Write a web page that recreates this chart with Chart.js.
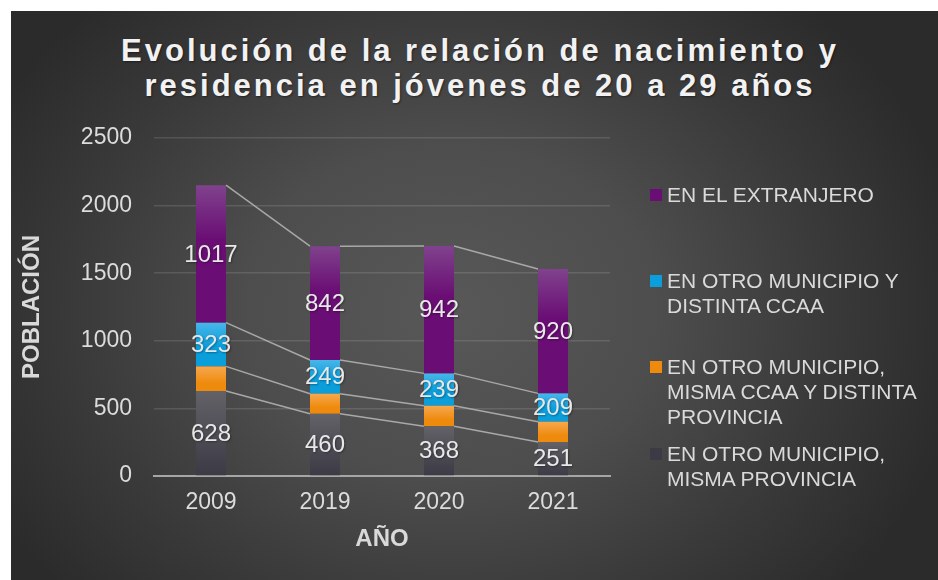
<!DOCTYPE html>
<html>
<head>
<meta charset="utf-8">
<script src="https://cdn.jsdelivr.net/npm/chart.js@4.4.1/dist/chart.umd.min.js"></script>
<style>
  html, body { margin: 0; padding: 0; background: #fff; }
  #wrap { position: relative; width: 938px; height: 580px; overflow: hidden; }
  #panel {
    position: absolute; left: 11px; top: 11px; width: 927px; height: 569px;
    background: radial-gradient(ellipse 520px 420px at 440px 300px, #585858 0%, #4d4d4d 40%, #3a3a3a 72%, #2b2b2b 100%);
  }
  #title {
    position: absolute; left: 120px; top: 33px; width: 720px;
    text-align: center; color: #f2f2f2;
    font: bold 31px "Liberation Sans", Arial, sans-serif;
    line-height: 35px; letter-spacing: 3px;
    text-shadow: 1px 1px 2px rgba(0,0,0,0.45);
  }
  canvas { position: absolute; left: 0; top: 0; }
  .leg {
    position: absolute; left: 667px; color: #dadada;
    font: 21px "Liberation Sans", Arial, sans-serif; line-height: 25px;
    white-space: nowrap;
  }
  .leg i {
    position: absolute; left: -17px; top: 7px; width: 12px; height: 12px;
  }
</style>
</head>
<body>
<div id="wrap">
  <div id="panel"></div>
  <div id="title">Evolución de la relación de nacimiento y<br>residencia en jóvenes de 20 a 29 años</div>
  <canvas id="chart" width="938" height="580"></canvas>
  <div id="legend"></div>
</div>
<script>
const years = ["2009", "2019", "2020", "2021"];
const mismaProvincia = [628, 460, 368, 251];
const mismaCcaa = [183, 149, 152, 151];
const distintaCcaa = [323, 249, 239, 209];
const extranjero = [1017, 842, 942, 920];

const seriesNames = [
  ["EN OTRO MUNICIPIO,", "MISMA PROVINCIA"],
  ["EN OTRO MUNICIPIO,", "MISMA CCAA Y DISTINTA", "PROVINCIA"],
  ["EN OTRO MUNICIPIO Y", "DISTINTA CCAA"],
  ["EN EL EXTRANJERO"]
];
const seriesValues = [mismaProvincia, mismaCcaa, distintaCcaa, extranjero];
// [top colour, base colour, where the base colour starts]
const seriesColors = [
  ["#636268", "#3b3a45", 1.0],
  ["#f6a84e", "#ee8a0c", 0.7],
  ["#48b6ea", "#0a9edb", 0.55],
  ["#80428d", "#6a0d74", 0.4]
];
const showLabel = [true, false, true, true];
const legendTops = [441, 354, 268, 182];

const FONT = '"Liberation Sans", Arial, sans-serif';
Chart.defaults.font.family = FONT;
Chart.defaults.color = "#d9d9d9";

function stackBase(ds, i) {
  let s = 0;
  for (let k = 0; k < ds; k++) s += seriesValues[k][i];
  return s;
}

function barFill(dsIndex) {
  return function (ctx) {
    const chart = ctx.chart;
    const y = chart.scales.y;
    const c = seriesColors[dsIndex];
    if (!y || ctx.dataIndex == null) return c[1];
    const start = stackBase(dsIndex, ctx.dataIndex);
    const top = y.getPixelForValue(start + seriesValues[dsIndex][ctx.dataIndex]);
    const bottom = y.getPixelForValue(start);
    if (!isFinite(top) || !isFinite(bottom)) return c[1];
    const g = chart.ctx.createLinearGradient(0, top, 0, bottom);
    g.addColorStop(0, c[0]);
    g.addColorStop(c[2], c[1]);
    g.addColorStop(1, c[1]);
    return g;
  };
}

// Excel-like series lines between the bar tops
const seriesLines = {
  id: "seriesLines",
  beforeDatasetsDraw(chart) {
    const ctx = chart.ctx;
    ctx.save();
    ctx.strokeStyle = "#a8a8a8";
    ctx.lineWidth = 1.5;
    for (let d = 0; d < chart.data.datasets.length; d++) {
      const bars = chart.getDatasetMeta(d).data;
      for (let i = 0; i < bars.length - 1; i++) {
        const a = bars[i], b = bars[i + 1];
        ctx.beginPath();
        ctx.moveTo(a.x + a.width / 2, a.y);
        ctx.lineTo(b.x - b.width / 2, b.y);
        ctx.stroke();
      }
    }
    ctx.restore();
  }
};

const valueLabels = {
  id: "valueLabels",
  afterDatasetsDraw(chart) {
    const ctx = chart.ctx;
    ctx.save();
    ctx.font = "24px " + FONT;
    ctx.textAlign = "center";
    ctx.textBaseline = "middle";
    ctx.fillStyle = "#e8e8e8";
    ctx.shadowColor = "rgba(0,0,0,0.35)";
    ctx.shadowOffsetX = 1;
    ctx.shadowOffsetY = 1;
    ctx.shadowBlur = 2;
    chart.data.datasets.forEach((ds, d) => {
      if (!showLabel[d]) return;
      chart.getDatasetMeta(d).data.forEach((bar, i) => {
        ctx.fillText(String(ds.data[i]), bar.x, (bar.y + bar.base) / 2 + 1);
      });
    });
    ctx.restore();
  }
};

const datasets = seriesValues.map((vals, d) => ({
  label: seriesNames[d].join(" "),
  data: vals,
  backgroundColor: barFill(d),
  borderWidth: 0,
  categoryPercentage: 1,
  barPercentage: 0.263
}));

new Chart(document.getElementById("chart"), {
  type: "bar",
  data: { labels: years, datasets },
  plugins: [seriesLines, valueLabels],
  options: {
    responsive: false,
    animation: false,
    layout: { padding: { left: 0, right: 328, top: 138, bottom: 24 } },
    plugins: { legend: { display: false }, tooltip: { enabled: false } },
    scales: {
      x: {
        stacked: true,
        grid: { display: false, drawTicks: false },
        border: { display: true, color: "#a6a6a6", width: 2 },
        ticks: { font: { size: 23 }, color: "#dcdcdc", padding: 13 },
        title: {
          display: true, text: "AÑO", color: "#d9d9d9",
          font: { size: 24, weight: "bold" }, padding: { top: 0, bottom: 2 }
        },
        afterFit(scale) { scale.height = 80; }
      },
      y: {
        stacked: true,
        min: 0, max: 2500,
        ticks: {
          stepSize: 500, font: { size: 23 }, color: "#dcdcdc", padding: 22,
          callback: (v) => String(v)
        },
        grid: {
          drawTicks: false,
          color: (c) => (c.tick && c.tick.value === 0 ? "rgba(0,0,0,0)" : "rgba(255,255,255,0.12)"),
          lineWidth: 1.5
        },
        border: { display: false },
        title: {
          display: true, text: "POBLACIÓN", color: "#d9d9d9",
          font: { size: 24, weight: "bold" }, padding: { top: 18, bottom: 0 }
        },
        afterFit(scale) { scale.width = 154; }
      }
    }
  }
});

// legend (reverse order, as in the original)
const legendEl = document.getElementById("legend");
for (let d = seriesNames.length - 1; d >= 0; d--) {
  const item = document.createElement("div");
  item.className = "leg";
  item.style.top = legendTops[d] + "px";
  item.innerHTML = '<i style="background:' + seriesColors[d][1] + '"></i>' + seriesNames[d].join("<br>");
  legendEl.appendChild(item);
}
</script>
</body>
</html>
